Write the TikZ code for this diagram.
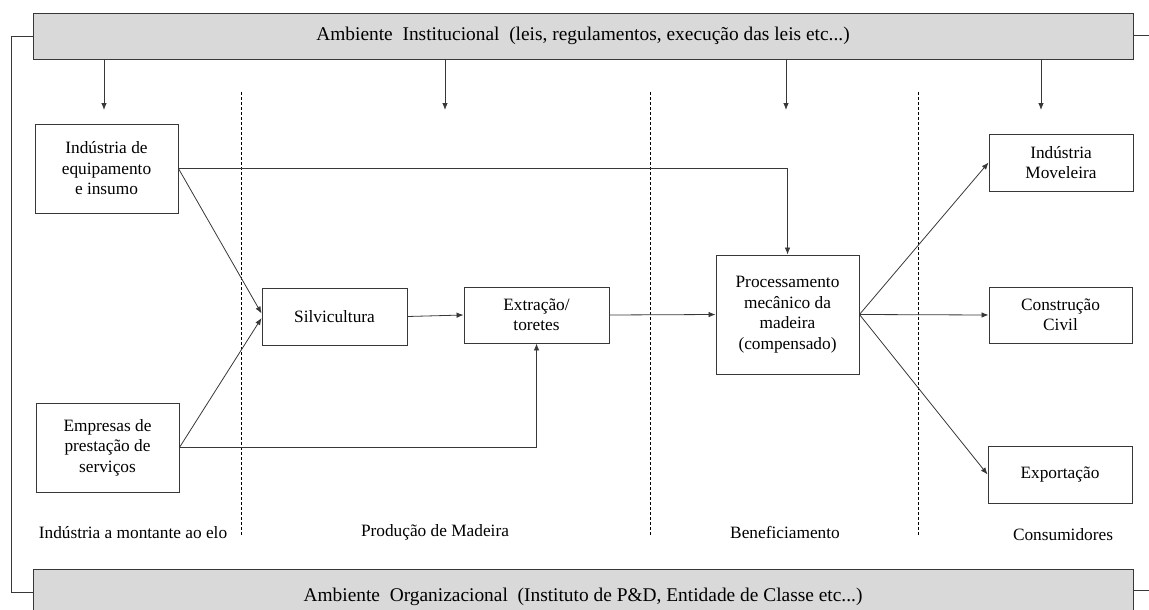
\documentclass[tikz,border=0pt]{standalone}
\usepackage{fontspec}
\setmainfont{Liberation Serif}
\usetikzlibrary{arrows.meta}
\definecolor{linec}{gray}{0.22}
\definecolor{barfill}{gray}{0.85}
\begin{document}
\begin{tikzpicture}[x=1pt,y=-1pt,
  txt/.style={font=\fontsize{17.3}{20.5}\selectfont},
  box/.style={draw=linec, line width=0.9pt, fill=white, align=center, inner sep=0pt,
    txt},
  bar/.style={draw=linec, line width=0.9pt, fill=barfill, inner sep=0pt,
    minimum width=1100pt, font=\fontsize{19.4}{23}\selectfont},
  conn/.style={draw=linec, line width=0.8pt},
  arr/.style={conn, -{Latex[length=7pt,width=5.5pt]}},
  divider/.style={draw=black, line width=0.7pt, dash pattern=on 3pt off 2pt},
]
\useasboundingbox (0,0) rectangle (1149,610);
\clip (0,0) rectangle (1149,610);

% environment bars
\node[bar, minimum height=46pt] (inst) at (583,36)
  {Ambiente\ \ Institucional\ \ (leis,\ regulamentos,\ execução\ das\ leis\ etc...)};
\node[bar, minimum height=56pt] (org) at (583,597)
  {Ambiente\ \ Organizacional\ \ (Instituto de P\&D, Entidade de Classe etc...)};

% frame linking the two bars
\coordinate (fl1) at (11,36);
\coordinate (fl2) at (11,592);
\draw[conn] (inst.west |- fl1) -- (fl1) -- (fl2) -- (org.west |- fl2);
\coordinate (fr1) at (1149,35);
\coordinate (fr2) at (1149,590);
\draw[conn] (inst.east |- fr1) -- (fr1);
\draw[conn] (org.east |- fr2) -- (fr2);

% stage dividers
\foreach \x [count=\i] in {241,650,918} {
  \coordinate (dt\i) at (\x,92);
  \coordinate (db\i) at (\x,535);
  \draw[divider] (dt\i) -- (db\i);
}

% boxes
\node[box, minimum width=143pt, minimum height=89pt] (ind) at (106.5,168.5)
  {Indústria de\\equipamento\\e insumo};
\node[box, minimum width=143pt, minimum height=89pt] (emp) at (107.5,447.5)
  {Empresas de\\prestação de\\serviços};
\node[box, minimum width=145pt, minimum height=57pt] (silv) at (334.5,316.5)
  {Silvicultura};
\node[box, minimum width=145pt, minimum height=56pt] (extr) at (536.5,315)
  {Extração/\\toretes};
\node[box, minimum width=143pt, minimum height=119pt] (proc) at (787.5,314.5)
  {Processamento\\mecânico da\\madeira\\(compensado)};
\node[box, minimum width=144pt, minimum height=57pt] (mov) at (1061,162.5)
  {Indústria\\Moveleira};
\node[box, minimum width=143pt, minimum height=56pt] (cons) at (1060.5,315)
  {Construção\\Civil};
\node[box, minimum width=144pt, minimum height=57pt] (exp) at (1060,474.5)
  {Exportação};

% influence of the institutional environment
\foreach \x [count=\i] in {104,445,786,1041} {
  \coordinate (it\i) at (\x,110);
  \draw[arr] (inst.south -| it\i) -- (it\i);
}

% flows
\draw[arr] (ind.east) -- ([yshift=3pt]silv.west);
\draw[arr] (emp.east) -- ([yshift=-1.5pt]silv.west);
\draw[arr] (ind.east) -| (proc.north);
\draw[arr] (emp.east) -| (extr.south);
\draw[arr] (silv.east) -- (extr.west);
\draw[arr] (extr.east) -- (proc.west);
\draw[arr] (proc.east) -- (mov.west);
\draw[arr] (proc.east) -- (cons.west);
\draw[arr] (proc.east) -- (exp.west);

% stage labels
\node[txt] (l1) at (133,533) {Indústria a montante ao elo};
\node[txt] (l2) at (435,532) {Produção de Madeira};
\node[txt] (l3) at (785,532) {Beneficiamento};
\node[txt] (l4) at (1063,535) {Consumidores};
\end{tikzpicture}
\end{document}
